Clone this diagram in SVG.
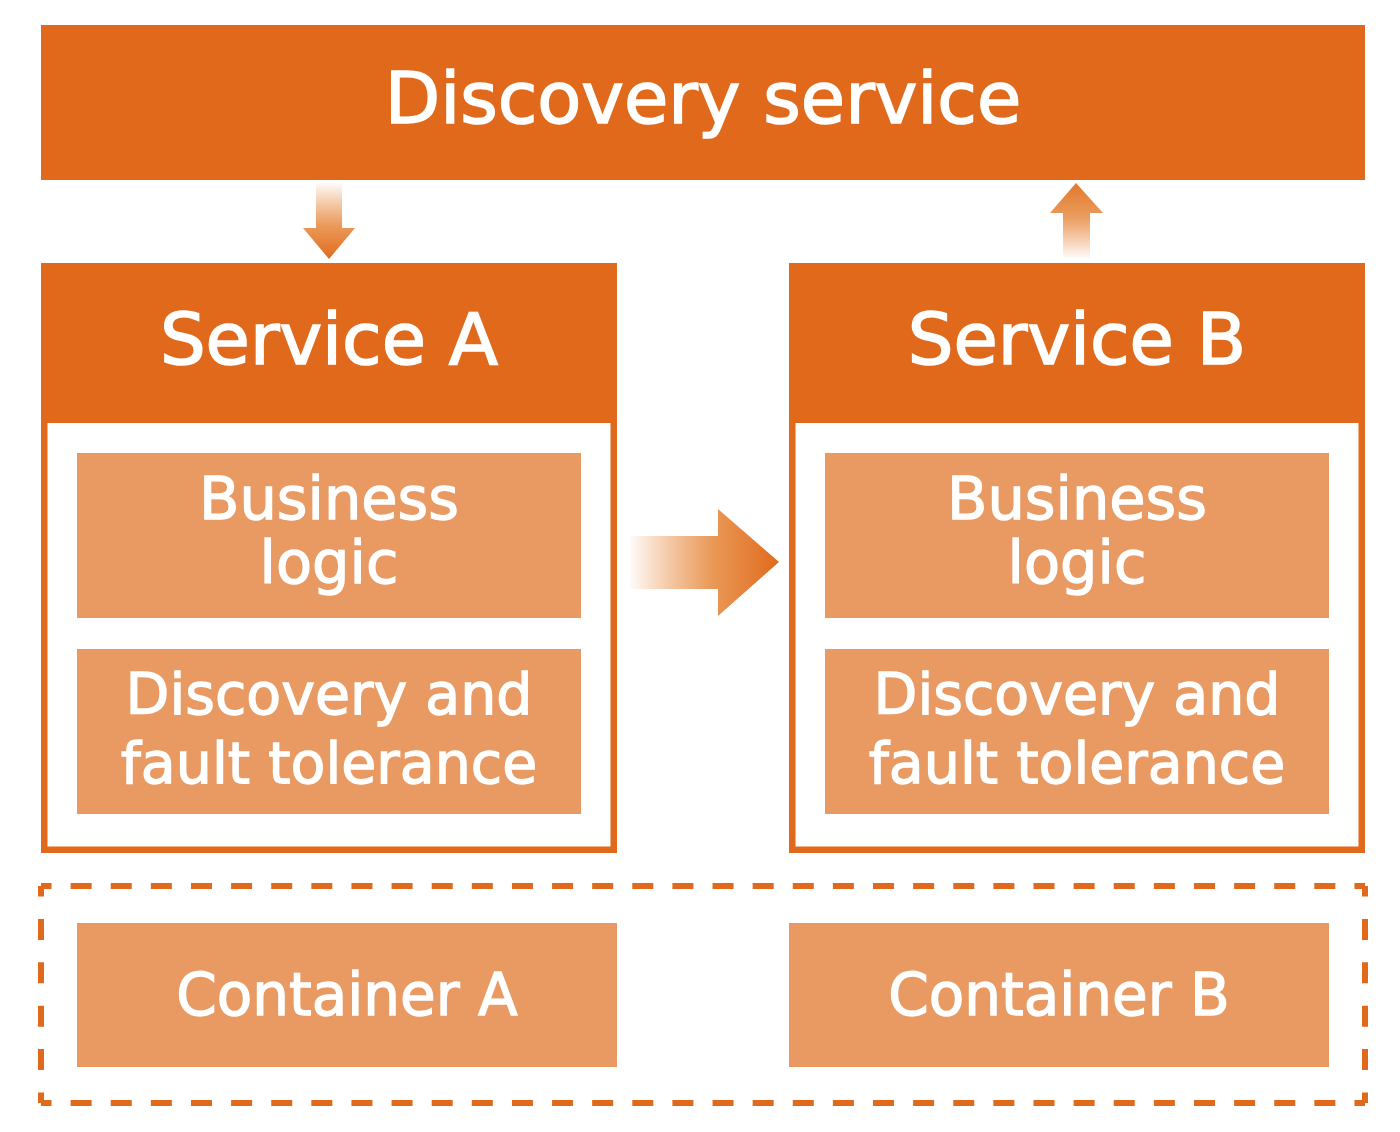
<svg xmlns="http://www.w3.org/2000/svg" width="1400" height="1132" viewBox="0 0 1400 1132">
  <style>
    .dark { fill: #E0691B; }
    .light { fill: #E89A62; }
    .frame { fill: #FFFFFF; stroke: #E0691B; stroke-width: 6.5; }
    text { font-family: "DejaVu Sans", "Liberation Sans", sans-serif; fill: #FFFFFF; stroke: #FFFFFF; stroke-width: 1.3; text-anchor: middle; }
    .t72 { font-size: 72px; stroke-width: 1.6; }
    .t59 { font-size: 59px; }
    .t57 { font-size: 57px; }
    .t58 { font-size: 58px; }
    .dash { stroke: #E0691B; stroke-width: 6; fill: none; }
  </style>
  <defs>
    <linearGradient id="gDown" gradientUnits="userSpaceOnUse" x1="0" y1="183" x2="0" y2="259">
      <stop offset="0" stop-color="#E8853A" stop-opacity="0.03"/>
      <stop offset="0.55" stop-color="#E8904A" stop-opacity="0.9"/>
      <stop offset="1" stop-color="#E06A1B"/>
    </linearGradient>
    <linearGradient id="gUp" gradientUnits="userSpaceOnUse" x1="0" y1="258" x2="0" y2="183">
      <stop offset="0" stop-color="#E8853A" stop-opacity="0.03"/>
      <stop offset="0.55" stop-color="#E8904A" stop-opacity="0.9"/>
      <stop offset="1" stop-color="#E2782C"/>
    </linearGradient>
    <linearGradient id="gRight" gradientUnits="userSpaceOnUse" x1="630" y1="0" x2="779" y2="0">
      <stop offset="0" stop-color="#E8853A" stop-opacity="0.03"/>
      <stop offset="0.55" stop-color="#E8944F" stop-opacity="0.95"/>
      <stop offset="1" stop-color="#E06A1B"/>
    </linearGradient>
  </defs>

  <g id="discovery-service">
    <rect class="dark" x="41" y="25" width="1324" height="155"/>
    <text class="t72" x="703" y="123">Discovery service</text>
  </g>

  <g id="service-a">
    <rect class="frame" x="44.25" y="266.25" width="569.5" height="583.5"/>
    <rect class="dark" x="41" y="263" width="576" height="160"/>
    <text class="t72" x="329" y="364">Service A</text>
  </g>
  <g id="business-logic-a">
    <rect class="light" x="77" y="453" width="504" height="165"/>
    <text class="t59" x="329" y="519">Business</text>
    <text class="t59" x="329" y="583">logic</text>
  </g>
  <g id="discovery-ft-a">
    <rect class="light" x="77" y="649" width="504" height="165"/>
    <text class="t57" x="329" y="714">Discovery and</text>
    <text class="t57" x="329" y="783">fault tolerance</text>
  </g>

  <g id="service-b">
    <rect class="frame" x="792.25" y="266.25" width="569.5" height="583.5"/>
    <rect class="dark" x="789" y="263" width="576" height="160"/>
    <text class="t72" x="1077" y="364">Service B</text>
  </g>
  <g id="business-logic-b">
    <rect class="light" x="825" y="453" width="504" height="165"/>
    <text class="t59" x="1077" y="519">Business</text>
    <text class="t59" x="1077" y="583">logic</text>
  </g>
  <g id="discovery-ft-b">
    <rect class="light" x="825" y="649" width="504" height="165"/>
    <text class="t57" x="1077" y="714">Discovery and</text>
    <text class="t57" x="1077" y="783">fault tolerance</text>
  </g>

  <g id="host">
    <line class="dash" x1="41" y1="886" x2="1365" y2="886" stroke-dasharray="21 19.12" stroke-dashoffset="10.5"/>
    <line class="dash" x1="41" y1="1103" x2="1365" y2="1103" stroke-dasharray="21 19.12" stroke-dashoffset="10.5"/>
    <line class="dash" x1="41" y1="886" x2="41" y2="1103" stroke-dasharray="21 22.4" stroke-dashoffset="10.5"/>
    <line class="dash" x1="1365" y1="886" x2="1365" y2="1103" stroke-dasharray="21 22.4" stroke-dashoffset="10.5"/>
  </g>
  <g id="container-a">
    <rect class="light" x="77" y="923" width="540" height="144"/>
    <text class="t58" x="347" y="1015">Container A</text>
  </g>
  <g id="container-b">
    <rect class="light" x="789" y="923" width="540" height="144"/>
    <text class="t58" x="1059" y="1015">Container B</text>
  </g>

  <g id="connectors">
    <path d="M316 183 H342 V228 H355 L329 259 L303 228 H316 Z" fill="url(#gDown)"/>
    <path d="M1063 258 H1090 V213 H1103 L1076 183 L1050 213 H1063 Z" fill="url(#gUp)"/>
    <path d="M630 536 H718 V509 L779 562 L718 616 V589 H630 Z" fill="url(#gRight)"/>
  </g>
</svg>
